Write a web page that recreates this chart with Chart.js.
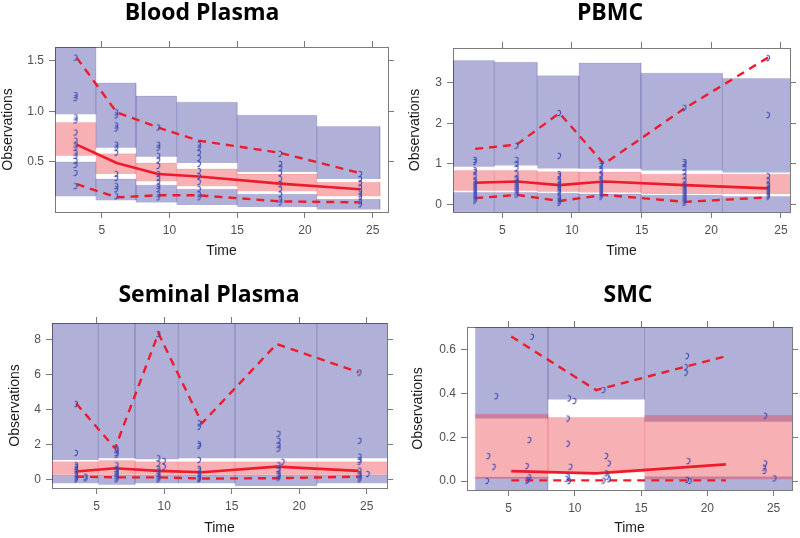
<!DOCTYPE html>
<html><head><meta charset="utf-8">
<script src="https://cdn.jsdelivr.net/npm/chart.js@4.4.1/dist/chart.umd.min.js"></script>
<style>
html,body{margin:0;padding:0;background:#fff;overflow:hidden;width:800px;height:538px;position:relative}
canvas{position:absolute}
</style></head><body>
<canvas id="c1"></canvas><canvas id="c2"></canvas><canvas id="c3"></canvas><canvas id="c4"></canvas>
<script>
// ---------- Blood Plasma ----------
const bpBinEdges = [1.4, 4.56, 7.53, 10.53, 15.0, 20.87, 25.54];
const bpUpperHi  = [1.70, 1.28, 1.15, 1.09, 0.96, 0.85];
const bpUpperLo  = [0.97, 0.64, 0.55, 0.49, 0.40, 0.33];
const bpMedHi    = [0.89, 0.58, 0.49, 0.43, 0.38, 0.30];
const bpMedLo    = [0.56, 0.38, 0.31, 0.26, 0.21, 0.16];
const bpLowerHi  = [0.50, 0.33, 0.27, 0.23, 0.18, 0.13];
const bpLowerLo  = [0.16, 0.12, 0.10, 0.075, 0.055, 0.03];
const bpTimes    = [3.15, 6.1, 9.15, 12.15, 18.15, 24.05];
const bpMedian   = [0.67, 0.49, 0.38, 0.355, 0.285, 0.23];
const bpP95      = [1.53, 0.99, 0.84, 0.71, 0.59, 0.39];
const bpP05      = [0.28, 0.15, 0.17, 0.17, 0.11, 0.10];
const bpObsTimes = [3.1, 6.1, 9.2, 12.2, 18.2, 24.1];
const bpObs = [
  [1.53,1.16,1.13,0.94,0.91,0.79,0.71,0.67,0.64,0.59,0.56,0.51,0.47,0.39,0.26],
  [0.99,0.96,0.86,0.83,0.67,0.64,0.59,0.38,0.34,0.26,0.23,0.16],
  [0.84,0.67,0.64,0.56,0.52,0.46,0.38,0.34,0.30,0.26,0.23,0.18,0.15],
  [0.67,0.64,0.59,0.54,0.48,0.41,0.36,0.30,0.23,0.18,0.15],
  [0.58,0.48,0.44,0.39,0.33,0.28,0.23,0.18,0.13,0.10],
  [0.38,0.33,0.29,0.25,0.21,0.18,0.15,0.11,0.08]
];
const bpYTicks = [0.5, 1.0, 1.5];

// ---------- PBMC ----------
const pbBinEdges = [1.3, 4.43, 7.51, 10.5, 14.95, 20.8, 25.8];
const pbUpperHi  = [3.54, 3.50, 3.17, 3.48, 3.23, 3.10];
const pbUpperLo  = [0.93, 0.96, 0.89, 0.88, 0.84, 0.79];
const pbMedHi    = [0.84, 0.84, 0.81, 0.80, 0.75, 0.75];
const pbMedLo    = [0.34, 0.34, 0.32, 0.30, 0.26, 0.26];
const pbLowerHi  = [0.30, 0.30, 0.28, 0.26, 0.23, 0.20];
const pbLowerLo  = [-0.3, -0.3, -0.3, -0.3, -0.3, -0.3];
const pbTimes    = [3.05, 6.05, 9.1, 12.3, 18.1, 24.1];
const pbMedian   = [0.54, 0.57, 0.48, 0.57, 0.48, 0.40];
const pbP95      = [1.37, 1.48, 2.25, 1.00, 2.37, 3.62];
const pbP05      = [0.16, 0.24, 0.09, 0.24, 0.07, 0.18];
const pbObsTimes = [3.05, 6.05, 9.1, 12.1, 18.1, 24.1];
const pbObs = [
  [1.1,1.05,0.85,0.8,0.7,0.6,0.55,0.5,0.45,0.4,0.35,0.3,0.25,0.2,0.15,0.1],
  [1.45,1.1,1.0,0.9,0.75,0.65,0.6,0.55,0.5,0.45,0.4,0.35,0.3,0.25],
  [2.25,1.2,0.75,0.7,0.6,0.55,0.5,0.45,0.4,0.35,0.3,0.2,0.15,0.1,0.05],
  [1.0,0.95,0.85,0.75,0.7,0.6,0.55,0.5,0.45,0.4,0.35,0.3,0.25,0.2],
  [2.38,1.05,1.0,0.9,0.8,0.7,0.6,0.5,0.45,0.4,0.35,0.3,0.25,0.2,0.15,0.1,0.05],
  [3.6,2.2,0.7,0.6,0.5,0.45,0.4,0.35,0.3,0.25,0.2]
];
const pbYTicks = [0, 1, 2, 3];

// ---------- Seminal Plasma ----------
const spBinEdges = [1.5, 5.12, 7.84, 11.05, 15.25, 21.3, 26.7];
const spUpperHi  = [9.5, 9.5, 9.5, 9.5, 9.5, 9.5];
const spUpperLo  = [1.10, 1.20, 1.14, 1.20, 1.20, 1.20];
const spMedHi    = [1.00, 1.07, 1.00, 1.00, 1.00, 1.00];
const spMedLo    = [0.26, 0.26, 0.26, 0.26, 0.26, 0.26];
const spLowerHi  = [0.24, 0.24, 0.24, 0.24, 0.24, 0.24];
const spLowerLo  = [-0.23, -0.32, -0.23, -0.23, -0.38, -0.23];
const spTimes    = [3.47, 6.36, 9.57, 12.8, 18.33, 24.4];
const spMedian   = [0.44, 0.63, 0.48, 0.40, 0.72, 0.48];
const spP95      = [4.34, 1.77, 8.34, 3.20, 7.73, 6.11];
const spP05      = [0.15, 0.11, 0.11, 0.04, 0.06, 0.15];
const spObsTimes = [3.5, 4.2, 6.5, 9.6, 10.0, 12.6, 18.5, 18.8, 24.5, 25.1];
const spObs = [
  [4.3,1.5,0.8,0.7,0.6,0.5,0.3,0.2,0.1,0.0],
  [0.15,0.05],
  [1.75,1.65,1.5,1.4,0.8,0.6,0.5,0.4,0.3,0.2,0.1,0.0],
  [8.3,1.2,0.9,0.6,0.45,0.3,0.2,0.1,0.0],
  [1.05,0.7],
  [3.2,3.0,2.0,1.9,1.1,0.6,0.5,0.3,0.2,0.1,0.05,0.0],
  [2.6,2.2,1.95,1.75,0.8,0.6,0.5,0.3,0.2,0.1],
  [1.0],
  [6.1,2.2,1.3,1.1,1.0,0.5,0.3,0.2,0.1,0.0],
  [0.3]
];
const spYTicks = [0, 2, 4, 6, 8];

// ---------- SMC ----------
const smBinEdges = [2.48, 7.97, 15.26, 26.6];
const smUpperHi  = [0.75, 0.75, 0.75];
const smUpperLo  = [0.285, 0.372, 0.27];
const smMedHi    = [0.305, 0.29, 0.30];
const smMedLo    = [0.010, 0.04, 0.008];
const smLowerHi  = [0.018, null, 0.02];
const smLowerLo  = [-0.06, null, -0.06];
const smTimes    = [5.2, 11.6, 21.4];
const smMedian   = [0.045, 0.035, 0.076];
const smP95      = [0.66, 0.415, 0.57];
const smP05      = [0.003, 0.003, 0.003];
const smObsX = [3.5,3.9,3.4,4.1, 6.4,6.6,6.8,6.4,6.6,6.5, 9.5,9.5,9.7,9.6,10.0,9.5,9.6,9.4, 12.2,12.4,12.6,12.4,12.5,12.2,12.6, 18.5,18.4,18.4,18.6,18.5,18.7, 24.3,24.35,24.4,24.4,25.1];
const smObsY = [0.114,0.065,0.0,0.387, 0.068,0.187,0.658,0.002,0.017,0.005, 0.285,0.17,0.065,0.377,0.365,0.02,0.0,0.01, 0.415,0.114,0.08,0.035,0.02,0.002,0.008, 0.57,0.52,0.494,0.091,0.005,0.0, 0.061,0.046,0.08,0.298,0.012];
const smYTicks = [0, 0.2, 0.4, 0.6];

const xTicks = [5, 10, 15, 20, 25];

// ---------- styling ----------
const BLUE = 'rgba(0,0,129,0.31)';
const BLUE_EDGE = 'rgba(0,0,129,0.10)';
const PINK = 'rgba(235,58,68,0.40)';
const PINK_EDGE = 'rgba(235,58,68,0.12)';
const RED = '#ee1c2b';
const FRAME = '#7a7a7a';
const TICKC = '#505050';
const TITLE_SIZE = 23;
Chart.defaults.font.family = '"Liberation Sans", Arial, sans-serif';

function makeGlyph() {
  const g = document.createElement('canvas');
  g.width = 5; g.height = 8;
  const c = g.getContext('2d');
  c.strokeStyle = '#3c4ab4'; c.lineWidth = 1.1; c.lineCap = 'round';
  c.beginPath(); c.moveTo(1.2, 1.3); c.quadraticCurveTo(4.3, 1.3, 3.5, 4.3); c.quadraticCurveTo(2.8, 6.6, 0.9, 6.6); c.stroke();
  return g;
}
const glyph = makeGlyph();

function groupPts(times, groups) { const pts = []; times.forEach((t, i) => groups[i].forEach(v => pts.push({x: t, y: v}))); return pts; }
function pairPts(xs, ys) { return xs.map((x, i) => ({x: x, y: ys[i]})); }

function rects(edges, lo, hi, color, edge, order) {
  const out = [];
  for (let i = 0; i < edges.length - 1; i++) {
    if (lo[i] == null || hi[i] == null) continue;
    out.push({
      type: 'line',
      data: [{x: edges[i], y: lo[i]}, {x: edges[i], y: hi[i]}, {x: edges[i+1], y: hi[i]}, {x: edges[i+1], y: lo[i]}],
      fill: {value: lo[i]}, backgroundColor: color, borderColor: edge, borderWidth: 1,
      pointRadius: 0, tension: 0, order: order
    });
  }
  return out;
}

function panel(p) {
  const cv = document.getElementById(p.id);
  cv.width = p.W; cv.height = p.H;
  cv.style.left = p.L + 'px'; cv.style.top = p.T + 'px';
  const fL = p.frame[0] - p.L, fR = p.frame[1] - p.L, fT = p.frame[2] - p.T, fB = p.frame[3] - p.T;
  const titleBox = p.titlePad + TITLE_SIZE;
  const ds = [];
  ds.push({type: 'scatter', data: p.obs, pointStyle: glyph, pointRadius: 4, order: 0});
  ds.push({type: 'line', data: pairPts(p.times, p.median), borderColor: RED, borderWidth: 2.6, pointRadius: 0, tension: 0, fill: false, order: 1});
  ds.push({type: 'line', data: pairPts(p.times, p.p95), borderColor: RED, borderWidth: 2.4, borderDash: [8, 6], pointRadius: 0, tension: 0, fill: false, order: 1});
  ds.push({type: 'line', data: pairPts(p.times, p.p05), borderColor: RED, borderWidth: 2.4, borderDash: [8, 6], pointRadius: 0, tension: 0, fill: false, order: 1});
  ds.push(...rects(p.edges, p.medLo, p.medHi, PINK, PINK_EDGE, 2));
  ds.push(...rects(p.edges, p.upLo, p.upHi, BLUE, BLUE_EDGE, 3));
  ds.push(...rects(p.edges, p.lowLo, p.lowHi, BLUE, BLUE_EDGE, 3));
  const grid = {drawOnChartArea: false, drawTicks: true, tickLength: 6, color: FRAME, lineWidth: 1};
  const border = {display: true, color: FRAME, width: 1};
  const setX = a => { a.ticks = xTicks.map(v => ({value: v})); };
  const setY = a => { a.ticks = p.yTicks.map(v => ({value: v})); };
  new Chart(cv, {
    type: 'line',
    data: {datasets: ds},
    options: {
      responsive: false, animation: false, devicePixelRatio: 1,
      layout: {padding: 0},
      plugins: {
        legend: {display: false}, tooltip: {enabled: false},
        title: {display: true, text: p.title, color: '#000',
          font: {family: '"Open Sans", sans-serif', weight: 'bold', size: TITLE_SIZE, lineHeight: 1},
          padding: {top: p.titlePad, bottom: 0}}
      },
      scales: {
        x: {type: 'linear', position: 'bottom', min: p.xMin, max: p.xMax, grid: grid, border: border,
            afterBuildTicks: setX,
            ticks: {color: TICKC, font: {size: 12}, padding: 5, maxRotation: 0, callback: v => String(v)},
            title: {display: true, text: 'Time', color: '#1a1a1a', font: {size: 14}, padding: {top: 0, bottom: p.xTitlePad}},
            afterFit: s => { s.height = p.H - fB; }},
        y: {type: 'linear', position: 'left', min: p.yMin, max: p.yMax, grid: grid, border: border,
            afterBuildTicks: setY,
            ticks: {color: TICKC, font: {size: 12}, padding: 5, callback: v => p.yFmt(v)},
            title: {display: true, text: 'Observations', color: '#1a1a1a', font: {size: 14}, padding: {top: p.yTitlePad, bottom: 0}},
            afterFit: s => { s.width = fL; }},
        x2: {type: 'linear', position: 'top', min: p.xMin, max: p.xMax, grid: grid, border: border,
            afterBuildTicks: setX, ticks: {display: false},
            afterFit: s => { s.height = fT - titleBox; }},
        y2: {type: 'linear', position: 'right', min: p.yMin, max: p.yMax, grid: grid, border: border,
            afterBuildTicks: setY, ticks: {display: false},
            afterFit: s => { s.width = p.W - fR; }}
      }
    }
  });
}

const fmt1 = v => v.toFixed(1);
const fmt0 = v => String(Math.round(v));

panel({id: 'c1', title: 'Blood Plasma', L: 0, T: 0, W: 404, H: 262, frame: [55, 388, 47, 212],
  titlePad: 2, xTitlePad: 2.6, yTitlePad: 0,
  xMin: 1.55, xMax: 26.13, yMin: 0.005, yMax: 1.635, yTicks: bpYTicks, yFmt: fmt1,
  edges: bpBinEdges, upHi: bpUpperHi, upLo: bpUpperLo, medHi: bpMedHi, medLo: bpMedLo, lowHi: bpLowerHi, lowLo: bpLowerLo,
  times: bpTimes, median: bpMedian, p95: bpP95, p05: bpP05, obs: groupPts(bpObsTimes, bpObs)});

panel({id: 'c2', title: 'PBMC', L: 402, T: 0, W: 416, H: 262, frame: [453, 790, 48, 212],
  titlePad: 2, xTitlePad: 2.6, yTitlePad: 4.6,
  xMin: 1.46, xMax: 25.65, yMin: -0.18, yMax: 3.85, yTicks: pbYTicks, yFmt: fmt0,
  edges: pbBinEdges, upHi: pbUpperHi, upLo: pbUpperLo, medHi: pbMedHi, medLo: pbMedLo, lowHi: pbLowerHi, lowLo: pbLowerLo,
  times: pbTimes, median: pbMedian, p95: pbP95, p05: pbP05, obs: groupPts(pbObsTimes, pbObs)});

panel({id: 'c3', title: 'Seminal Plasma', L: 0, T: 266, W: 418, H: 272, frame: [52, 387, 323, 488],
  titlePad: 18, xTitlePad: 1.6, yTitlePad: 6.6,
  xMin: 1.69, xMax: 26.5, yMin: -0.5, yMax: 8.93, yTicks: spYTicks, yFmt: fmt0,
  edges: spBinEdges, upHi: spUpperHi, upLo: spUpperLo, medHi: spMedHi, medLo: spMedLo, lowHi: spLowerHi, lowLo: spLowerLo,
  times: spTimes, median: spMedian, p95: spP95, p05: spP05, obs: groupPts(spObsTimes, spObs)});

panel({id: 'c4', title: 'SMC', L: 410, T: 266, W: 436, H: 272, frame: [467, 792, 327, 490],
  titlePad: 18, xTitlePad: 1.6, yTitlePad: 0,
  xMin: 1.86, xMax: 26.39, yMin: -0.041, yMax: 0.703, yTicks: smYTicks, yFmt: fmt1,
  edges: smBinEdges, upHi: smUpperHi, upLo: smUpperLo, medHi: smMedHi, medLo: smMedLo, lowHi: smLowerHi, lowLo: smLowerLo,
  times: smTimes, median: smMedian, p95: smP95, p05: smP05, obs: pairPts(smObsX, smObsY)});
</script>
</body></html>
